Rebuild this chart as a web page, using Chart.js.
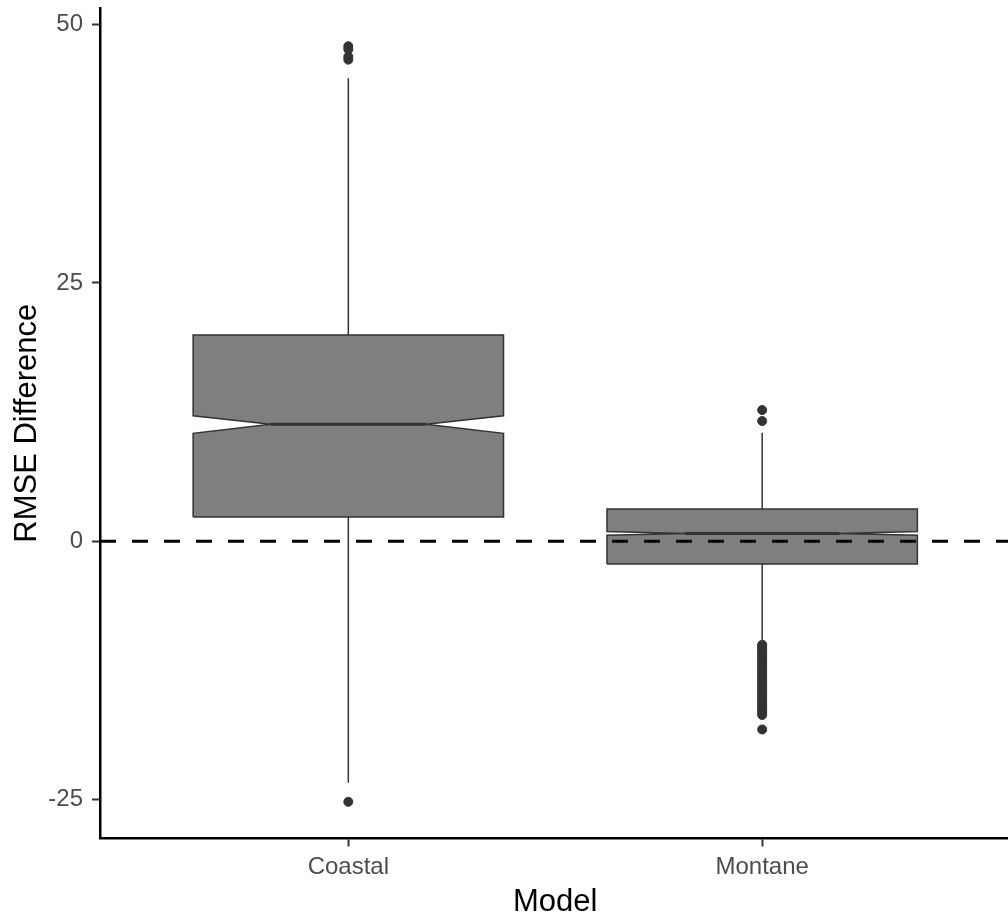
<!DOCTYPE html>
<html>
<head>
<meta charset="utf-8">
<title>RMSE Difference by Model</title>
<script src="https://cdn.jsdelivr.net/npm/chart.js@4.4.1/dist/chart.umd.min.js"></script>
<style>
  html, body { margin: 0; padding: 0; background: #fff; overflow: hidden; }
  #wrap { position: relative; width: 1016px; height: 923px; }
</style>
</head>
<body>
<div id="wrap"><canvas id="chart"></canvas></div>
<script>
/* ================== DATA ================== */
const models = ["Coastal", "Montane"];
const q1 = [2.35, -2.19];
const median = [11.32, 0.77];
const q3 = [19.96, 3.12];
const notchLow = [10.45, 0.59];
const notchHigh = [12.15, 0.95];
const whiskerLow = [-23.35, -9.55];
const whiskerHigh = [44.8, 10.5];
const outliers = [
  [47.9, 47.6, 46.9, 46.6, -25.2],
  [12.7, 11.64,
   -10.0, -10.2, -10.4, -10.6, -10.8, -11.0, -11.2, -11.4, -11.6, -11.8,
   -12.0, -12.2, -12.4, -12.6, -12.8, -13.0, -13.2, -13.4, -13.6, -13.8,
   -14.0, -14.2, -14.4, -14.6, -14.8, -15.0, -15.2, -15.4, -15.6, -15.8,
   -16.0, -16.2, -16.4, -16.6, -16.8, -18.2]
];
const yTicks = [-25, 0, 25, 50];
const refLine = 0;

/* ================== STYLE ================== */
const HALF_BOX = 0.375;
const HALF_NOTCH = HALF_BOX / 2;
const BOX_FILL = "#7f7f7f";
const INK = "#333333";
const X_MIN = 0.4, X_MAX = 2.6;
const Y_MIN = -28.75, Y_MAX = 51.6;

Chart.defaults.font.family = "'Liberation Sans', Arial, sans-serif";

/* ================== DATASETS ================== */
function boxOutline(i) {
  const x = i + 1;
  const l = x - HALF_BOX, r = x + HALF_BOX;
  return [
    {x: l, y: q1[i]}, {x: r, y: q1[i]},
    {x: r, y: notchLow[i]}, {x: x + HALF_NOTCH, y: median[i]}, {x: r, y: notchHigh[i]},
    {x: r, y: q3[i]}, {x: l, y: q3[i]},
    {x: l, y: notchHigh[i]}, {x: x - HALF_NOTCH, y: median[i]}, {x: l, y: notchLow[i]},
    {x: l, y: q1[i]}
  ];
}

function lineSet(data, width, order) {
  return {
    type: "line", data, order,
    borderColor: INK, borderWidth: width,
    pointRadius: 0, fill: false, tension: 0
  };
}

const datasets = [];

models.forEach((m, i) => {
  const x = i + 1;
  datasets.push(lineSet([{x, y: q3[i]}, {x, y: whiskerHigh[i]}], 1.5, 5));
  datasets.push(lineSet([{x, y: q1[i]}, {x, y: whiskerLow[i]}], 1.5, 5));
  datasets.push(Object.assign(lineSet(boxOutline(i), 1.5, 4), {
    fill: "shape", backgroundColor: BOX_FILL
  }));
  datasets.push(lineSet([{x: x - HALF_NOTCH, y: median[i]}, {x: x + HALF_NOTCH, y: median[i]}], 3, 3));
});

datasets.push({
  type: "scatter",
  order: 2,
  data: outliers.flatMap((vals, i) => vals.map(v => ({x: i + 1, y: v}))),
  pointRadius: 4.5,
  pointBorderWidth: 1,
  pointBackgroundColor: INK,
  pointBorderColor: INK
});

datasets.push({
  type: "line",
  order: 0,
  data: [{x: X_MIN, y: refLine}, {x: X_MAX, y: refLine}],
  borderColor: "#000",
  borderWidth: 3,
  borderDash: [16, 16],
  pointRadius: 0,
  fill: false
});

/* ================== CHART ================== */
new Chart(document.getElementById("chart"), {
  type: "scatter",
  data: { datasets },
  options: {
    responsive: true,
    maintainAspectRatio: false,
    animation: false,
    events: [],
    layout: { padding: { top: 8, left: 0, right: 0, bottom: 0 } },
    plugins: {
      legend: { display: false },
      tooltip: { enabled: false }
    },
    scales: {
      x: {
        type: "linear",
        min: X_MIN,
        max: X_MAX,
        afterBuildTicks: a => { a.ticks = models.map((m, i) => ({value: i + 1})); },
        afterFit: a => { a.height = 84.5; a.paddingLeft = 0; a.paddingRight = 0; },
        ticks: {
          color: "#4d4d4d",
          font: { size: 24 },
          padding: 6.5,
          callback: v => models[v - 1]
        },
        grid: { drawOnChartArea: false, drawTicks: true, tickLength: 8, tickColor: INK, tickWidth: 2 },
        border: { display: true, color: "#000", width: 2.5 },
        title: {
          display: true, text: "Model", color: "#000",
          font: { size: 31 }, padding: { top: 0, bottom: 1.5 }
        }
      },
      y: {
        type: "linear",
        min: Y_MIN,
        max: Y_MAX,
        afterBuildTicks: a => { a.ticks = yTicks.map(v => ({value: v})); },
        afterFit: a => { a.width = 100; a.paddingTop = 0; a.paddingBottom = 0; },
        ticks: {
          color: "#4d4d4d",
          font: { size: 24 },
          padding: 9,
          callback: v => String(v)
        },
        grid: { drawOnChartArea: false, drawTicks: true, tickLength: 8, tickColor: INK, tickWidth: 2 },
        border: { display: true, color: "#000", width: 2.5 },
        title: {
          display: true, text: "RMSE Difference", color: "#000",
          font: { size: 31 }, padding: { top: 9, bottom: 0 }
        }
      }
    }
  }
});
</script>
</body>
</html>
